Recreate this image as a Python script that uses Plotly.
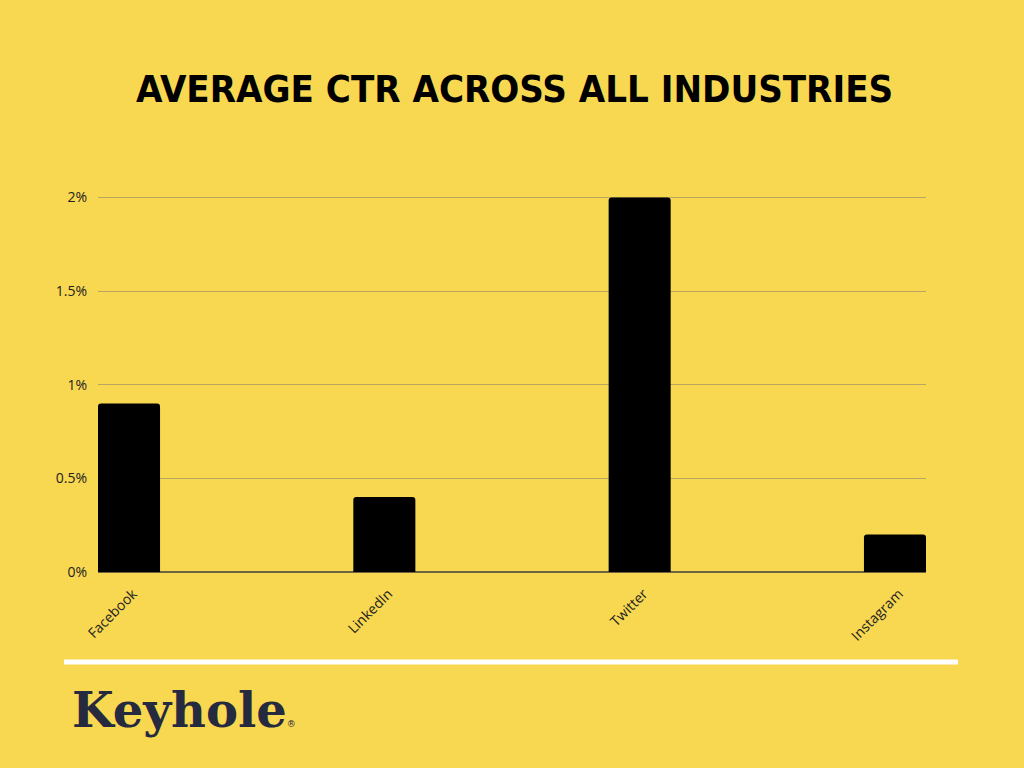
import plotly.graph_objects as go

categories = ["Facebook", "LinkedIn", "Twitter", "Instagram"]
ctr_values = [0.9, 0.4, 2.0, 0.2]
y_ticks = [0, 0.5, 1, 1.5, 2]
y_tick_labels = ["0%", "0.5%", "1%", "1.5%", "2%"]
title_text = "AVERAGE CTR ACROSS ALL INDUSTRIES"
logo_text = "Keyhole"

BG = "#F8D751"
bar_w = 0.243
y_max = 2.04
plot_top, plot_bottom = 190, 572
plot_h = plot_bottom - plot_top

fig = go.Figure(go.Bar(
    x=categories, y=ctr_values, width=bar_w,
    marker=dict(color="#000000", line=dict(width=0), cornerradius=3),
    hoverinfo="x+y",
))


def py(pix):
    return (plot_bottom - pix) / plot_h


fig.update_layout(
    width=1024, height=768,
    paper_bgcolor=BG, plot_bgcolor=BG,
    margin=dict(l=98, r=98, t=plot_top, b=768 - plot_bottom),
    showlegend=False,
    font=dict(family="Open Sans", size=14, color="#222222"),
    xaxis=dict(
        range=[-bar_w / 2, 3 + bar_w / 2],
        tickangle=-45, showgrid=False, showline=False, ticks="",
        ticklabelstandoff=10, ticklabelshift=4,
        tickfont=dict(family="Open Sans", size=14, color="#222222"),
        fixedrange=True,
    ),
    yaxis=dict(
        range=[0, y_max], tickmode="array", tickvals=y_ticks, ticktext=y_tick_labels,
        showgrid=True, gridcolor="#B8A55E", gridwidth=1,
        zeroline=True, zerolinecolor="#6E6440", zerolinewidth=1.5,
        showline=False, ticks="", ticklabelstandoff=10,
        tickfont=dict(family="Open Sans", size=14, color="#222222"),
        fixedrange=True,
    ),
    shapes=[dict(
        type="line", xref="paper", yref="paper",
        x0=(64 - 98) / 828, x1=(958 - 98) / 828,
        y0=py(662), y1=py(662),
        line=dict(color="#FFFFFF", width=5),
    )],
    annotations=[
        dict(
            text="<b>" + title_text + "</b>",
            xref="paper", yref="paper",
            x=(514 - 98) / 828, y=py(89),
            xanchor="center", yanchor="middle", showarrow=False,
            font=dict(family="DejaVu Sans Condensed, Roboto", size=38, color="#000000"),
        ),
        dict(
            text="<b>" + logo_text + "</b><span style='font-size:9px'>®</span>",
            xref="paper", yref="paper",
            x=(70 - 98) / 828, y=py(710),
            xanchor="left", yanchor="middle", showarrow=False,
            font=dict(family="DejaVu Serif", size=48, color="#262A3E"),
        ),
    ],
)

fig.write_html("out.html")
